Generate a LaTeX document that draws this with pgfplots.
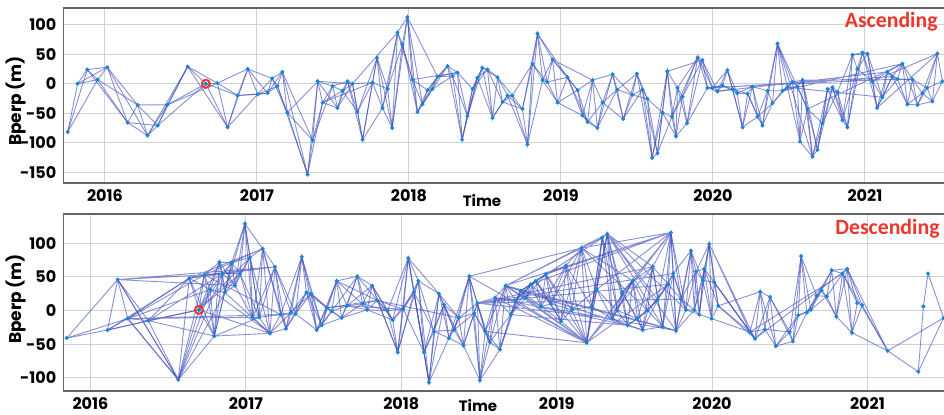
\documentclass[border=0pt]{standalone}
\usepackage{pgfplots}
\pgfplotsset{compat=1.18}
\usepackage{pgfplotstable}
\usepackage{fontspec}
\setmainfont{Poppins}
\newfontfamily\titlefont{Carlito}
\definecolor{edgecol}{RGB}{62,78,185}
\definecolor{nodecol}{RGB}{20,135,215}
\definecolor{gridcol}{RGB}{205,210,215}
\definecolor{framecol}{RGB}{100,100,105}
\definecolor{titlered}{RGB}{235,55,45}
\newcount\chaincnt
\pgfplotsset{
  chain/.style n args={4}{x filter/.append code={%
    \chaincnt=\coordindex\relax
    \divide\chaincnt by #1\relax
    \multiply\chaincnt by #1\relax
    \advance\chaincnt by -\coordindex\relax
    \ifnum\chaincnt=-#2\relax
      \ifnum\coordindex<#3\relax\def\pgfmathresult{}\fi
      \ifnum\coordindex>#4\relax\def\pgfmathresult{}\fi
    \else\def\pgfmathresult{}\fi}},
  base/.style={scale only axis, anchor=south west,
    axis line style={framecol,line width=0.8pt},
    grid=major, major grid style={gridcol,line width=0.5pt},
    tick style={draw=none},
    xtick={2016,2017,2018,2019,2020,2021},
    xticklabels={2016,2017,2018,2019,2020,2021},
    tick label style={font=\fontsize{8}{9}\selectfont\bfseries},
    /pgf/number format/assume math mode=true},
  netline/.style={no markers, draw=edgecol, line width=0.45pt, draw opacity=0.62},
  netnode/.style={only marks, mark=*, mark size=0.8pt, color=nodecol},
}
\pgfplotstableread{
x y
2015.755 -82
2015.82 0
2015.884 24
2015.952 7
2016.015 28
2016.149 -66
2016.215 -36
2016.28 -88
2016.347 -71
2016.41 -36
2016.544 29
2016.664 0
2016.74 1
2016.807 -74
2016.873 -20
2016.939 25
2017.005 -18
2017.07 -16
2017.10 9
2017.135 -4
2017.167 20
2017.20 -49
2017.333 -154
2017.366 -96
2017.40 4
2017.432 -32
2017.498 -4
2017.53 -41
2017.563 -12
2017.596 4
2017.629 0
2017.662 -48
2017.695 -95
2017.76 2
2017.79 44
2017.826 -41
2017.86 -9
2017.89 -75
2017.925 87
2017.957 67
2017.99 113
2018.023 7
2018.056 -48
2018.089 -35
2018.122 -11
2018.155 -9
2018.188 12
2018.254 30
2018.287 13
2018.32 19
2018.35 -95
2018.385 -55
2018.418 -9
2018.45 10
2018.483 27
2018.517 24
2018.55 -58
2018.583 11
2018.616 -31
2018.649 -20
2018.68 -20
2018.747 -43
2018.78 -103
2018.813 34
2018.846 85
2018.879 6
2018.91 3
2018.945 41
2018.978 -32
2019.043 11
2019.11 -11
2019.142 -54
2019.175 -65
2019.208 6
2019.24 -75
2019.274 -32
2019.34 16
2019.37 -10
2019.41 -60
2019.47 -19
2019.50 17
2019.536 -10
2019.57 -26
2019.60 -126
2019.635 -118
2019.668 -49
2019.70 21
2019.73 -56
2019.757 -89
2019.767 -7
2019.80 -22
2019.83 -67
2019.90 45
2019.93 40
2019.964 -7
2019.997 -7
2020.03 -13
2020.063 -3
2020.095 23
2020.13 -9
2020.16 -16
2020.195 -74
2020.228 -17
2020.26 -5
2020.294 -56
2020.326 -71
2020.36 -12
2020.392 -33
2020.425 68
2020.458 -12
2020.49 -6
2020.523 3
2020.556 -5
2020.573 -98
2020.59 6
2020.622 -43
2020.655 -124
2020.688 -112
2020.72 -67
2020.754 -9
2020.787 -6
2020.82 -14
2020.852 -62
2020.885 -74
2020.918 49
2020.95 25
2020.984 53
2021.017 51
2021.05 4
2021.08 -41
2021.115 -23
2021.148 20
2021.18 12
2021.214 8
2021.247 34
2021.28 -35
2021.313 7
2021.346 -36
2021.378 -16
2021.41 -7
2021.444 -30
2021.477 51
2021.51 4
}\topnodes
\pgfplotstableread{
x y
2015.847 -41
2016.11 -29
2016.175 46
2016.24 -12
2016.372 -15
2016.565 -103
2016.636 48
2016.698 1
2016.733 53
2016.77 31
2016.797 -38
2016.83 72
2016.85 55
2016.864 27
2016.908 71
2016.93 37
2016.962 55
2016.994 129
2017.026 79
2017.044 -11
2017.086 -10
2017.108 92
2017.155 -34
2017.187 65
2017.224 -6
2017.258 -27
2017.29 -3
2017.32 -5
2017.36 80
2017.39 27
2017.42 25
2017.456 -29
2017.488 -22
2017.52 4
2017.552 -1
2017.584 44
2017.616 -11
2017.65 7
2017.717 51
2017.75 10
2017.78 1
2017.813 37
2017.846 15
2017.912 0
2017.945 -14
2017.977 -62
2018.013 2
2018.045 78
2018.082 27
2018.11 44
2018.146 -62
2018.178 -107
2018.21 -31
2018.243 25
2018.275 9
2018.307 -41
2018.34 -29
2018.37 -11
2018.40 -52
2018.437 51
2018.47 -4
2018.49 11
2018.506 -104
2018.54 -31
2018.57 -47
2018.603 19
2018.635 -58
2018.672 37
2018.704 -6
2018.736 15
2018.768 29
2018.80 19
2018.833 39
2018.865 44
2018.90 6
2018.93 54
2018.963 10
2019.028 -16
2019.06 67
2019.097 1
2019.16 93
2019.193 -48
2019.225 6
2019.257 31
2019.293 108
2019.326 114
2019.358 -12
2019.39 0
2019.422 27
2019.457 -22
2019.49 44
2019.52 -12
2019.553 -29
2019.586 0
2019.618 65
2019.65 16
2019.682 -24
2019.718 39
2019.735 116
2019.75 55
2019.768 -30
2019.80 17
2019.832 1
2019.864 89
2019.886 1
2019.897 58
2019.918 -6
2019.94 45
2019.95 62
2019.982 99
2019.997 -12
2020.014 42
2020.04 7
2020.244 -32
2020.276 -42
2020.31 28
2020.34 -28
2020.373 20
2020.41 -53
2020.50 -32
2020.52 -46
2020.555 -7
2020.573 81
2020.61 -3
2020.636 1
2020.673 22
2020.705 30
2020.738 21
2020.77 60
2020.80 -9
2020.84 55
2020.87 62
2020.90 -33
2020.934 11
2020.966 8
2021.13 -60
2021.327 -91
2021.36 6
2021.39 55
2021.49 -11
}\botnodes
\begin{document}
\begin{tikzpicture}
\useasboundingbox (0pt,0pt) rectangle (472pt,207pt);
% ---------------- Ascending ----------------
\begin{axis}[base, at={(31.65pt,115.65pt)}, width=446.4pt, height=87.2pt,
  xmin=2015.726, xmax=2021.6, ymin=-168, ymax=128,
  ytick={-150,-100,-50,0,50,100}]
\addplot[netline] table {\topnodes};
\addplot[netline, chain={2}{0}{0}{999}] table {\topnodes};
\addplot[netline, chain={2}{1}{0}{999}] table {\topnodes};
\addplot[netline, chain={3}{0}{0}{999}] table {\topnodes};
\addplot[netline, chain={3}{1}{0}{999}] table {\topnodes};
\addplot[netline, chain={3}{2}{0}{999}] table {\topnodes};
\addplot[netline, unbounded coords=jump] coordinates {
(2019.964,-7)(2021.214,8)(nan,nan)
(2019.997,-7)(2021.18,12)(nan,nan)
(2020.03,-13)(2021.148,20)(nan,nan)
(2020.458,-12)(2021.247,34)(nan,nan)
(2020.622,-43)(2021.247,34)(nan,nan)
(2020.59,6)(2021.313,7)(nan,nan)
(2020.49,-6)(2021.115,-23)(nan,nan)
(2021.05,4)(2021.477,51)(nan,nan)
(2021.08,-41)(2021.477,51)(nan,nan)
(2017.629,0)(2017.925,87)(nan,nan)
(2018.023,7)(2018.32,19)(nan,nan)
(2017.40,4)(2017.629,0)(nan,nan)
(2017.432,-32)(2017.76,2)(nan,nan)
(2019.70,21)(2019.93,40)(nan,nan)
(2019.73,-56)(2019.90,45)(nan,nan)
(2020.425,68)(2020.622,-43)(nan,nan)
(2020.425,68)(2020.655,-124)(nan,nan)
(2018.846,85)(2019.043,11)(nan,nan)
(2018.945,41)(2019.208,6)(nan,nan)
(2017.99,113)(2018.188,12)
};
\addplot[netnode] table {\topnodes};
\addplot[only marks, mark=o, mark size=2pt, draw=titlered, line width=1pt] coordinates {(2016.664,0)};
\end{axis}
% ---------------- Descending ----------------
\begin{axis}[base, at={(31.65pt,11.65pt)}, width=448.7pt, height=88.35pt,
  xmin=2015.825, xmax=2021.6, ymin=-119.3, ymax=143.6,
  ytick={-100,-50,0,50,100}]
\addplot[netline] table {\botnodes};
\addplot[netline, chain={2}{0}{0}{134}] table {\botnodes};
\addplot[netline, chain={2}{1}{0}{134}] table {\botnodes};
\addplot[netline, chain={3}{0}{0}{134}] table {\botnodes};
\addplot[netline, chain={3}{1}{0}{134}] table {\botnodes};
\addplot[netline, chain={3}{2}{0}{134}] table {\botnodes};
\addplot[netline, chain={4}{0}{5}{112}] table {\botnodes};
\addplot[netline, chain={4}{1}{5}{112}] table {\botnodes};
\addplot[netline, chain={4}{2}{5}{112}] table {\botnodes};
\addplot[netline, chain={4}{3}{5}{112}] table {\botnodes};
\addplot[netline, unbounded coords=jump] coordinates {
(2016.175,46)(2016.733,53)(nan,nan)
(2016.175,46)(2016.93,37)(nan,nan)
(2016.175,46)(2017.187,65)(nan,nan)
(2016.11,-29)(2016.636,48)(nan,nan)
(2016.11,-29)(2016.698,1)(nan,nan)
(2016.24,-12)(2016.733,53)(nan,nan)
(2016.24,-12)(2016.77,31)(nan,nan)
(2016.24,-12)(2017.224,-6)(nan,nan)
(2016.24,-12)(2017.086,-10)(nan,nan)
(2016.372,-15)(2016.698,1)(nan,nan)
(2016.372,-15)(2016.797,-38)(nan,nan)
(2016.372,-15)(2016.85,55)(nan,nan)
(2016.565,-103)(2016.175,46)(nan,nan)
(2016.565,-103)(2016.24,-12)(nan,nan)
(2016.565,-103)(2016.797,-38)(nan,nan)
(2016.565,-103)(2016.85,55)(nan,nan)
(2016.565,-103)(2016.864,27)(nan,nan)
(2016.698,1)(2016.908,71)(nan,nan)
(2016.698,1)(2016.962,55)(nan,nan)
(2016.698,1)(2017.026,79)(nan,nan)
(2016.698,1)(2017.155,-34)(nan,nan)
(2016.636,48)(2017.108,92)(nan,nan)
(2016.636,48)(2017.187,65)(nan,nan)
(2016.797,-38)(2017.155,-34)(nan,nan)
(2016.77,31)(2017.155,-34)(nan,nan)
(2016.797,-38)(2017.086,-10)(nan,nan)
(2016.733,53)(2017.187,65)(nan,nan)
(2016.733,53)(2017.108,92)(nan,nan)
(2016.733,53)(2017.224,-6)(nan,nan)
(2016.85,55)(2017.187,65)(nan,nan)
(2016.864,27)(2017.155,-34)(nan,nan)
(2017.65,7)(2018.013,2)(nan,nan)
(2017.846,15)(2018.37,-11)(nan,nan)
(2018.045,78)(2018.243,25)(nan,nan)
(2017.584,44)(2017.846,15)(nan,nan)
(2017.52,4)(2017.846,15)(nan,nan)
(2018.437,51)(2019.16,93)(nan,nan)
(2018.672,37)(2019.735,116)(nan,nan)
(2018.672,37)(2019.326,114)(nan,nan)
(2018.672,37)(2019.16,93)(nan,nan)
(2019.193,-48)(2018.54,-31)(nan,nan)
(2019.193,-48)(2018.603,19)(nan,nan)
(2019.193,-48)(2018.672,37)(nan,nan)
(2019.193,-48)(2018.736,15)(nan,nan)
(2019.193,-48)(2018.80,19)(nan,nan)
(2019.193,-48)(2018.865,44)(nan,nan)
(2019.193,-48)(2018.93,54)(nan,nan)
(2019.193,-48)(2019.735,116)(nan,nan)
(2019.193,-48)(2019.618,65)(nan,nan)
(2019.193,-48)(2019.49,44)(nan,nan)
(2019.193,-48)(2019.718,39)(nan,nan)
(2019.735,116)(2019.16,93)(nan,nan)
(2019.735,116)(2018.93,54)(nan,nan)
(2019.735,116)(2018.833,39)(nan,nan)
(2019.735,116)(2019.257,31)(nan,nan)
(2019.735,116)(2019.422,27)(nan,nan)
(2018.672,37)(2019.553,-29)(nan,nan)
(2018.672,37)(2019.682,-24)(nan,nan)
(2018.704,-6)(2019.457,-22)(nan,nan)
(2018.768,29)(2019.553,-29)(nan,nan)
(2018.603,19)(2019.457,-22)(nan,nan)
(2018.49,11)(2019.358,-12)(nan,nan)
(2019.326,114)(2019.618,65)(nan,nan)
(2019.326,114)(2019.682,-24)(nan,nan)
(2019.326,114)(2019.768,-30)(nan,nan)
(2019.326,114)(2019.832,1)(nan,nan)
(2019.326,114)(2019.65,16)(nan,nan)
(2019.293,108)(2018.833,39)(nan,nan)
(2019.293,108)(2018.768,29)(nan,nan)
(2019.16,93)(2019.49,44)(nan,nan)
(2019.16,93)(2019.586,0)(nan,nan)
(2018.437,51)(2019.193,-48)(nan,nan)
(2018.49,11)(2019.618,65)(nan,nan)
(2018.49,11)(2019.718,39)(nan,nan)
(2018.49,11)(2019.80,17)(nan,nan)
(2018.49,11)(2019.75,55)(nan,nan)
(2019.768,-30)(2018.768,29)(nan,nan)
(2019.768,-30)(2018.90,6)(nan,nan)
(2019.982,99)(2020.244,-32)(nan,nan)
(2019.982,99)(2020.276,-42)(nan,nan)
(2020.014,42)(2020.244,-32)(nan,nan)
(2020.014,42)(2020.276,-42)(nan,nan)
(2020.276,-42)(2020.87,62)(nan,nan)
(2020.244,-32)(2020.84,55)(nan,nan)
(2020.84,55)(2021.13,-60)(nan,nan)
(2020.87,62)(2021.13,-60)(nan,nan)
(2020.90,-33)(2021.13,-60)(nan,nan)
(2021.13,-60)(2021.49,-11)(nan,nan)
(2021.327,-91)(2021.49,-11)
};
\addplot[netnode] table {\botnodes};
\addplot[only marks, mark=o, mark size=2pt, draw=titlered, line width=1pt] coordinates {(2016.698,1)};
\end{axis}
% ---------------- labels ----------------
\node[rotate=90, font=\fontsize{8.5}{10}\selectfont\bfseries] at (8pt,156.5pt) {Bperp (m)};
\node[rotate=90, font=\fontsize{8.5}{10}\selectfont\bfseries] at (8pt,57.5pt) {Bperp (m)};
\node[font=\fontsize{7.5}{9}\selectfont\bfseries] at (241pt,106.5pt) {Time};
\node[font=\fontsize{7.5}{9}\selectfont\bfseries] at (239pt,4.2pt) {Time};
\node[anchor=base east, inner sep=0pt, text=titlered, font=\titlefont\fontsize{10.9}{12}\selectfont\bfseries] at (469pt,193.4pt) {Ascending};
\node[anchor=base east, inner sep=0pt, text=titlered, font=\titlefont\fontsize{10.9}{12}\selectfont\bfseries] at (470pt,90pt) {Descending};
\end{tikzpicture}
\end{document}
